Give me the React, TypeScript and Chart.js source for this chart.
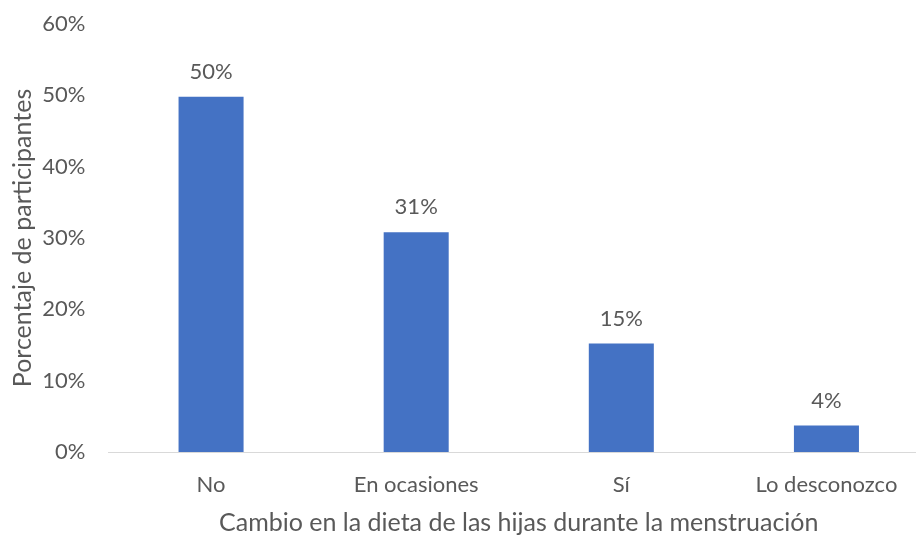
import React, { useEffect, useRef } from "react";
import { Chart, registerables } from "chart.js";

Chart.register(...registerables);

const categories = ["No", "En ocasiones", "Sí", "Lo desconozco"];
const values = [49.8, 30.8, 15.2, 3.7];
const valueLabels = ["50%", "31%", "15%", "4%"];
const yTickMax = 60;
const yTickStep = 10;
const xTitle = "Cambio en la dieta de las hijas durante la menstruación";
const yTitle = "Porcentaje de participantes";

const FONT = "Lato, 'Liberation Sans', sans-serif";
const GREY = "#595959";

const labelPlugin = {
  id: "barLabels",
  afterDatasetsDraw(chart: any) {
    const ctx = chart.ctx;
    const meta = chart.getDatasetMeta(0);
    ctx.save();
    ctx.font = `22px ${FONT}`;
    ctx.fillStyle = GREY;
    ctx.textAlign = "center";
    ctx.textBaseline = "middle";
    meta.data.forEach((bar: any, i: number) => {
      ctx.fillText(valueLabels[i], bar.x, bar.y - 25);
    });
    ctx.restore();
  },
};

export default function App() {
  const ref = useRef<HTMLCanvasElement>(null);
  useEffect(() => {
    if (!ref.current) return;
    const chart = new Chart(ref.current, {
      type: "bar",
      data: {
        labels: categories,
        datasets: [
          {
            data: values,
            backgroundColor: "#4472C4",
            barPercentage: 1,
            categoryPercentage: 0.317,
          },
        ],
      },
      options: {
        animation: false,
        responsive: false,
        maintainAspectRatio: false,
        layout: { padding: { top: 24, right: 0, left: 0, bottom: 0 } },
        plugins: { legend: { display: false }, tooltip: { enabled: false } },
        scales: {
          x: {
            grid: { display: false, drawTicks: false },
            border: { display: true, color: "#d9d9d9", width: 1 },
            ticks: { color: GREY, font: { family: FONT, size: 22 }, padding: 20, maxRotation: 0 },
            title: {
              display: true,
              text: xTitle,
              color: GREY,
              font: { family: FONT, size: 25, lineHeight: 1 },
              padding: { top: 0, bottom: 0 },
            },
            afterFit: (s: any) => {
              s.height = 83;
              s.paddingLeft = 0;
              s.paddingRight = 0;
            },
          },
          y: {
            min: 0,
            max: yTickMax,
            grid: { display: false, drawTicks: false },
            border: { display: false },
            ticks: {
              stepSize: yTickStep,
              color: GREY,
              font: { family: FONT, size: 22 },
              padding: 23,
              callback: (v: any) => v + "%",
            },
            title: {
              display: true,
              text: yTitle,
              color: GREY,
              font: { family: FONT, size: 25, lineHeight: 1 },
              padding: { top: 10, bottom: 0 },
            },
            afterFit: (s: any) => {
              s.width = 108.5;
              s.paddingTop = 0;
              s.paddingBottom = 0;
            },
          },
        },
      },
      plugins: [labelPlugin],
    });
    return () => chart.destroy();
  }, []);
  return (
    <div style={{ position: "fixed", left: 0, top: 0, width: 916, height: 535, overflow: "hidden", background: "#fff" }}>
      <canvas ref={ref} width={929} height={535} style={{ display: "block", width: 929, height: 535 }} />
    </div>
  );
}
